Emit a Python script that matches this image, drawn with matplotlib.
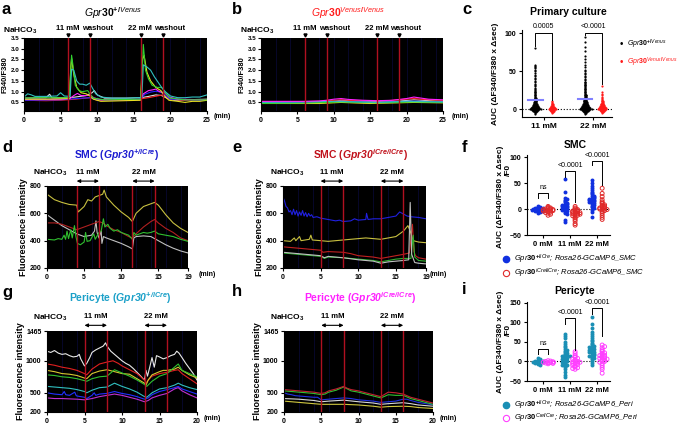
import matplotlib
matplotlib.use("Agg")
import matplotlib.pyplot as plt

plt.rcParams['font.family'] = ['Liberation Sans', 'DejaVu Sans']
plt.rcParams['mathtext.fontset'] = 'custom'
plt.rcParams['mathtext.rm'] = 'Liberation Sans:bold'
plt.rcParams['mathtext.bf'] = 'Liberation Sans:bold'
plt.rcParams['mathtext.it'] = 'Liberation Sans:italic'
plt.rcParams['mathtext.bfit'] = 'Liberation Sans:bold:italic'

W, H = 683, 425

# ---- time traces (minute, value) ----
# a: Gpr30+/Venus, F340/F380
a_cyan = [(0,.75),(0.5,.9),(1,.85),(1.5,.78),(3,.78),(4.5,.8),(5,.95),(5.5,.8),(6.3,.78),(6.5,2.05),(6.8,2.0),(7.2,1.5),(7.6,1.35),(8,1.35),(8.5,1.3),(9,1.4),(9.3,1.2),(9.8,.9),(10.5,.75),(12,.7),(14,.7),(15.5,.72),(16.1,.72),(16.3,2.25),(16.8,2.15),(17.3,2.0),(17.8,1.7),(18.3,1.45),(18.8,1.2),(19.3,1.0),(20,.8),(21,.72),(22,.72),(23,.75),(24,.75),(25,.85)]
a_yellow = [(0,.65),(3,.65),(6.2,.68),(6.4,2.2),(6.5,2.55),(6.8,1.8),(7.2,1.2),(7.8,.95),(8.5,.9),(9,.8),(9.5,.65),(10.5,.55),(15.9,.6),(16.2,2.5),(16.4,2.7),(16.8,1.9),(17.3,1.5),(18,1.2),(18.7,1.05),(19.2,.8),(19.8,.6),(21,.55),(22,.5),(23,.55),(24,.55),(25,.6)]
a_green = [(0,.7),(2,.72),(4,.72),(6.2,.72),(6.5,2.7),(6.7,2.2),(7,1.3),(7.5,1.05),(8,1.0),(8.7,1.05),(9,.9),(9.5,.7),(11,.62),(15.9,.65),(16.1,1.5),(16.3,3.2),(16.6,2.0),(17,1.6),(17.5,1.3),(18.2,1.2),(18.8,1.2),(19.3,.95),(20,.7),(22,.62),(25,.62)]
a_magenta = [(0,.65),(5,.65),(6.3,.68),(6.8,.82),(7.3,.92),(7.8,.82),(8.5,.82),(9,.85),(9.5,.72),(10.5,.62),(15.9,.62),(16.3,.9),(17,1.05),(17.5,1.08),(18,1.12),(18.5,1.0),(19.2,.95),(19.8,.75),(21,.65),(25,.62)]
a_blue = [(0,.6),(5,.62),(8,.7),(9,.72),(10,.62),(15,.62),(16,.68),(16.5,.88),(17.3,.98),(18,1.02),(18.7,.98),(19.3,.82),(20,.65),(25,.6)]
a_white = [(0,.7),(3,.72),(3.5,.88),(3.8,.72),(6,.72),(7,.75),(8.5,.82),(9.3,.95),(9.6,1.05),(10,.85),(11,.7),(14,.7),(16,.72),(17,.78),(18,.85),(18.8,.82),(19.5,.7),(20.5,.6),(22,.62),(25,.65)]
a_red = [(0,.6),(3,.58),(5,.6),(7,.65),(9,.72),(10,.6),(13,.6),(15,.62),(17,.72),(18.5,.82),(19,.85),(20,.65),(22,.6),(25,.62)]

# b: Gpr30Venus/Venus
b_magenta = [(0,.55),(6,.55),(8,.57),(9,.6),(10,.65),(11,.68),(12,.64),(14,.6),(16,.58),(18,.6),(20,.68),(21,.75),(22,.7),(23,.65),(25,.62)]
b_red = [(0,.52),(8,.55),(11,.62),(13,.58),(17,.57),(21,.68),(23,.62),(25,.6)]
b_white = [(0,.5),(9,.52),(11,.6),(14,.55),(18,.53),(21,.62),(25,.55)]
b_cyan = [(0,.5),(5,.52),(10,.55),(16,.5),(20,.55),(25,.52)]
b_green = [(0,.45),(6,.47),(11,.52),(16,.48),(21,.52),(25,.5)]
b_yellow = [(0,.45),(8,.45),(11,.5),(15,.45),(21,.5),(25,.48)]
b_blue = [(0,.48),(6,.5),(11,.55),(16,.5),(21,.56),(25,.52)]

# d: SMC Gpr30+/iCre
d_yellow = [(0,740),(1,700),(2,680),(3,665),(4,660),(4.2,610),(5,650),(5.5,700),(6,690),(6.5,720),(7,730),(7.5,740),(7.7,770),(8,720),(9,660),(10,610),(11,570),(11.5,540),(12,600),(13,650),(14,670),(14.5,680),(15,660),(16,590),(17,530),(18,490),(19,460)]
d_red = [(0,530),(1,530),(2,520),(3,500),(4,480),(5,500),(6,520),(7,540),(7.5,530),(8,510),(9,480),(10,460),(11,430),(11.5,420),(12,450),(13,500),(14,540),(14.5,555),(15,530),(16,490),(17,460),(18,420),(19,400)]
d_green = [(0,410),(1,405),(1.5,415),(2,410),(2.3,440),(2.5,410),(2.7,470),(2.9,415),(3.2,480),(3.4,420),(3.7,510),(3.9,430),(4.1,380),(4.5,370),(5,390),(5.2,460),(5.4,395),(5.8,400),(6,420),(6.3,450),(6.5,410),(6.8,440),(7,460),(7.3,470),(7.6,560),(7.8,500),(8.2,520),(8.5,490),(9,470),(9.5,480),(10,460),(10.5,450),(11,440),(11.5,410),(11.7,460),(12,440),(12.5,450),(13,460),(13.5,455),(14,460),(14.5,470),(15,450),(16,440),(17,430),(18,410),(19,395)]
d_gray = [(0,590),(1,550),(2,510),(3,480),(4,450),(5,430),(6,440),(6.4,470),(6.6,545),(6.75,460),(7,420),(7.3,470),(7.4,380),(7.6,430),(8,420),(9,400),(10,380),(11,355),(11.5,340),(11.7,420),(12,430),(13,435),(14,430),(15,400),(16,370),(17,345),(18,325),(19,310)]

# e: SMC Gpr30iCre/iCre
e_blue = [(0,720),(0.2,690),(0.4,650),(0.6,640),(0.8,610),(1,620),(1.2,590),(1.4,630),(1.6,590),(1.8,620),(2,580),(2.2,610),(2.4,585),(2.6,620),(2.8,580),(3,605),(3.2,575),(3.4,600),(3.6,580),(3.8,590),(4,570),(4.5,575),(5,565),(5.5,560),(6,555),(6.5,550),(7,545),(7.5,550),(8,540),(9,545),(9.5,560),(10,550),(11,555),(11.1,600),(11.3,555),(12,560),(13,560),(14,570),(15,580),(15.5,610),(16,595),(16.5,580),(17,575),(18,570),(19,560)]
e_yellow = [(0,400),(1,395),(1.5,420),(1.7,400),(2.2,430),(2.4,400),(3.5,410),(3.7,440),(3.9,405),(5,400),(6,395),(7,400),(8,405),(9,410),(10,415),(11,420),(12,415),(13,410),(14,420),(15,430),(16,470),(16.6,510),(16.9,470),(17.3,400),(18,390),(19,385)]
e_red = [(0,355),(2,345),(4,335),(5,330),(5.3,315),(6,320),(8,315),(9,305),(10,290),(12,280),(13,270),(14,280),(15,290),(16,300),(16.8,310),(17,420),(17.2,520),(17.4,320),(17.6,290),(18,275),(19,265)]
e_green = [(0,310),(2,300),(4,290),(5,285),(5.5,270),(6,280),(8,275),(10,265),(12,255),(13,245),(14,255),(15,265),(16,270),(17,270),(17.3,440),(17.5,280),(18,255),(19,250)]
e_gray = [(0,315),(2,305),(4,295),(5,290),(5.5,275),(6,285),(8,275),(10,260),(12,250),(13,235),(14,245),(15,250),(16,255),(16.7,260),(16.9,680),(17.1,300),(17.5,240),(18,235),(19,230)]

# g: Pericyte Gpr30+/iCre
g_white = [(0,1150),(0.5,1130),(1,1160),(1.5,1120),(2,1100),(2.5,1110),(3,1080),(3.5,1060),(4,1070),(4.3,1100),(4.5,1030),(5,920),(5.3,960),(5.7,1050),(6,1130),(6.5,1170),(7,1200),(7.5,1230),(7.8,1280),(8,1230),(8.5,1150),(9,1100),(9.5,1050),(10,1000),(10.5,960),(11,930),(11.5,880),(12,820),(12.5,760),(12.8,720),(13,700),(13.2,850),(13.4,760),(13.7,900),(14,1050),(14.3,900),(14.6,1080),(15,1060),(15.5,1030),(16,1050),(16.5,1080),(17,1100),(17.3,1150),(17.6,1120),(18,1050),(18.5,960),(19,880),(19.5,800),(20,700)]
g_red = [(0,950),(1,930),(2,900),(3,880),(4,850),(5,800),(5.3,780),(6,870),(7,950),(8,980),(8.8,1000),(9.5,960),(10,920),(11,860),(12,800),(13,700),(13.2,650),(13.5,700),(14,760),(15,800),(16,820),(17,850),(17.5,860),(18,800),(19,720),(20,640)]
g_yellow = [(0,850),(1,830),(2,800),(3,790),(4,770),(5,730),(5.3,720),(6,800),(7,840),(8,860),(9,830),(10,800),(11,790),(12,720),(13,650),(13.2,620),(13.5,700),(14,780),(15,830),(15.5,850),(16,850),(17,870),(17.5,900),(18,850),(19,780),(20,730)]
g_green = [(0,780),(1,770),(2,750),(3,740),(4,720),(5,690),(5.3,680),(6,720),(7,750),(8,760),(9,860),(10,810),(11,760),(12,700),(13,630),(13.3,600),(14,680),(15,760),(16,800),(17,900),(17.5,950),(18,850),(19,800),(20,750)]
g_cyan = [(0,600),(1,590),(2,580),(3,570),(4,550),(5,520),(5.3,500),(6,540),(6.5,560),(7,580),(8,590),(9,650),(10,600),(11,560),(12,510),(13,440),(13.3,430),(14,500),(15,560),(16,580),(17,620),(17.5,650),(18,620),(19,580),(20,550)]
g_blue = [(0,500),(1,480),(2,470),(2.3,520),(2.5,470),(3,460),(3.7,510),(3.9,455),(4,450),(5,430),(5.3,410),(6,460),(6.3,500),(6.5,460),(7,480),(8,490),(9,520),(10,490),(11,470),(12,440),(13,400),(13.5,420),(14,470),(15,520),(16,550),(17,580),(17.5,600),(18,560),(19,520),(20,480)]
g_magenta = [(0,420),(1,410),(2,410),(3,405),(4,400),(5,390),(6,410),(7,440),(8,460),(9,480),(10,460),(11,430),(12,400),(13,360),(13.5,380),(14,420),(15,460),(16,490),(17,560),(17.5,580),(18,530),(19,470),(20,420)]

# h: Pericyte Gpr30iCre/iCre
h_red = [(0,550),(1,540),(2,530),(3,520),(4,510),(5,490),(5.5,500),(6,530),(7,560),(8,600),(8.5,570),(9,550),(10,530),(11,500),(12,470),(13,440),(14,510),(15,500),(16,480),(17,430),(18,400),(19,370),(20,340)]
h_green = [(0,530),(1,520),(2,510),(3,500),(4,490),(5,470),(5.5,480),(6,510),(7,540),(8,590),(8.5,560),(9,530),(10,510),(11,480),(12,450),(13,420),(14,470),(15,460),(16,460),(17,410),(18,380),(19,350),(20,320)]
h_blue = [(0,500),(0.5,480),(1,470),(1.5,455),(2,450),(3,440),(4,430),(4.5,430),(5,390),(6,400),(7,410),(8,420),(9,410),(10,390),(11,380),(12,370),(13,350),(14,360),(15,370),(16,400),(16.5,400),(17,380),(18,350),(19,330),(20,315)]
h_white = [(0,410),(2,400),(4,380),(5,360),(6,370),(8,385),(10,360),(12,340),(13,320),(14,330),(16,345),(17,330),(18,310),(20,290)]
h_yellow = [(0,370),(2,350),(4,330),(5,320),(8,320),(10,310),(12,290),(13,275),(14,285),(16,290),(17,285),(18,270),(20,255)]

# ---- AUC dot plots ----
c_black_11 = [80, 58, 57, 55, 54, 52, 50, 47, 45, 43, 41, 39, 37, 35, 33, 31, 30, 28, 26, 25, 24, 23, 22, 21, 20, 19, 18, 17, 16, 15, 15, 14, 13, 13, 12, 12, 11, 11, 10, 10,
              9, 9, 9, 8, 8, 8, 7, 7, 7, 6, 6, 6, 6, 5, 5, 5, 5, 5, 4, 4, 4, 4, 4, 4, 3, 3, 3, 3, 3, 3, 3, 2, 2, 2, 2, 2, 2, 2, 2,
              1, 1, 1, 1, 1, 1, 1, 1, 1, 0, 0, 0, 0, 0, 0, 0, 0, 0, 0, 0, -1, -1, -1, -1, -1, -1, -1, -2, -2, -2, -2, -2, -3, -3, -3, -4, -4, -5, -6]
c_red_11 = [10, 9, 8, 7, 6, 6, 5, 5, 4, 4, 4, 3, 3, 3, 3, 2, 2, 2, 2, 2, 1, 1, 1, 1, 1, 1, 0, 0, 0, 0, 0, 0, 0, 0,
            -1, -1, -1, -1, -1, -2, -2, -2, -2, -3, -3, -3, -4, -4, -5]
c_black_22 = [95, 88, 82, 76, 70, 66, 62, 58, 55, 52, 50, 48, 46, 44, 42, 40, 38, 36, 35, 34, 33, 32, 31, 30, 29, 28, 27, 26, 25, 24, 23, 22, 21, 20,
              19, 19, 18, 18, 17, 17, 16, 16, 15, 15, 14, 14, 13, 13, 12, 12, 12, 11, 11, 11, 10, 10, 10, 9, 9, 9, 9, 8, 8, 8, 8,
              7, 7, 7, 7, 6, 6, 6, 6, 6, 5, 5, 5, 5, 5, 5, 4, 4, 4, 4, 4, 4, 4, 3, 3, 3, 3, 3, 3, 3, 3, 2, 2, 2, 2, 2, 2, 2, 2, 2,
              1, 1, 1, 1, 1, 1, 1, 1, 1, 1, 0, 0, 0, 0, 0, 0, 0, 0, 0, 0, 0, 0, -1, -1, -1, -1, -1, -1, -1, -1,
              -2, -2, -2, -2, -2, -2, -3, -3, -3, -3, -4, -4, -4, -5, -5, -6]
c_red_22 = [30, 22, 20, 18, 16, 14, 13, 12, 11, 10, 10, 9, 9, 8, 8, 7, 7, 7, 6, 6, 6, 5, 5, 5, 5, 4, 4, 4, 4, 4,
            3, 3, 3, 3, 3, 3, 2, 2, 2, 2, 2, 2, 2, 1, 1, 1, 1, 1, 1, 1, 1, 0, 0, 0, 0, 0, 0, 0, 0, 0,
            -1, -1, -1, -1, -1, -1, -2, -2, -2, -2, -3, -3, -3, -4, -4, -5]

f_blue_0 = [5, 4, 3, 2, 2, 1, 1, 0, 0, 0, -1, -1, -2, -2, -3, -4, -5, -6, -8]
f_red_0 = [5, 3, 2, 1, 0, 0, -1, -1, -2, -2, -3, -3, -4, -5, -6, -7, -8, -10, -12]
f_blue_11 = [57, 32, 22, 20, 18, 15, 13, 12, 10, 9, 8, 7, 6, 5, 4, 3, 2, 1, 0, -1, -2, -4, -6, -8, -10, -22, -25]
f_red_11 = [5, 2, 0, -1, -2, -3, -4, -5, -5, -6, -7, -8, -8, -9, -10, -11, -12, -13, -15, -17, -20, -23, -28, -31]
f_blue_22 = [55, 50, 45, 40, 36, 33, 30, 28, 26, 25, 24, 22, 21, 20, 19, 18, 17, 16, 15, 14, 12, 11, 10, 8, 6, 4, 2, -1, -5, -15]
f_red_22 = [40, 30, 24, 18, 14, 12, 10, 8, 6, 5, 4, 3, 2, 1, 0, 0, -1, -2, -3, -5, -8, -12, -16, -20]

i_teal_0 = [9, 6, 4, 3, 2, 1, 0, 0, -1, -2, -3, -4, -5, -7, -9]
i_mag_0 = [2, 1, 0, -1, -2, -2, -3, -3, -4, -5, -6]
i_teal_11 = [70, 65, 60, 50, 45, 40, 36, 33, 30, 27, 25, 22, 20, 18, 16, 15, 14, 12, 10, 8, 6, 4, 2, 0, -2, -4, -6, -8, -10, -12, -15, -20, -28, -35, -40]
i_mag_11 = [25, 20, 15, 12, 10, 8, 6, 4, 2, 0, -1, -2, -3, -4, -5, -6, -8, -10, -12, -14, -16, -18, -20]
i_teal_22 = [113, 95, 85, 75, 70, 65, 60, 56, 52, 48, 45, 42, 40, 38, 35, 33, 31, 30, 28, 26, 25, 23, 21, 20, 18, 16, 14, 12, 10, 8, 5, 0, -5, -10]
i_mag_22 = [42, 38, 35, 30, 27, 25, 22, 20, 18, 16, 15, 13, 12, 10, 9, 8, 6, 5, 3, 2, 0, -2, -5, -10, -15, -20, -30]

conc_c = ['11 mM', '22 mM']
conc_fi = ['0 mM', '11 mM', '22 mM']

RED_LINE = '#b01020'
TICK_FS = 5
LAB_FS = 5.5   # 11 mM / washout labels
TITLE_FS = 7.5

fig = plt.figure(figsize=(W / 100, H / 100), dpi=100)


def add_ax(x0, y0, x1, y1):
    return fig.add_axes([x0 / W, 1 - y1 / H, (x1 - x0) / W, (y1 - y0) / H])


def ftext(x, y, s, **kw):
    fig.text(x / W, 1 - y / H, s, **kw)


def style_axis(ax, fs=TICK_FS):
    for sp in ['top', 'right']:
        ax.spines[sp].set_visible(False)
    ax.spines['left'].set_linewidth(0.8)
    ax.spines['bottom'].set_linewidth(0.8)
    ax.tick_params(direction='out', length=2.5, width=0.8, labelsize=fs, pad=1.5)
    for lab in ax.get_xticklabels() + ax.get_yticklabels():
        lab.set_fontweight('bold')


def trace_panel(ax, traces, lines, xlim, ylim, xticks, yticks, grid_step):
    ax.set_facecolor('black')
    g = xlim[0] + grid_step
    while g < xlim[1]:
        ax.axvline(g, color='#0a0a3a', lw=0.5, zorder=0)
        g += grid_step
    for col, pts in traces:
        t = [p[0] for p in pts]
        v = [p[1] for p in pts]
        ax.plot(t, v, color=col, lw=0.8)
    for xl in lines:
        ax.axvline(xl, color=RED_LINE, lw=1.0)
    ax.set_xlim(*xlim)
    ax.set_ylim(*ylim)
    ax.set_xticks(xticks)
    ax.set_yticks(yticks)
    style_axis(ax)


def arrows(ax, spans, ya, yt):
    tr = ax.get_xaxis_transform()
    for x1, x2, s in spans:
        ax.annotate('', xy=(x2, ya), xytext=(x1, ya), xycoords=tr, textcoords=tr, annotation_clip=False,
                    arrowprops=dict(arrowstyle='<|-|>', color='k', lw=0.8, shrinkA=0, shrinkB=0,
                                    mutation_scale=5))
        ax.text((x1 + x2) / 2, yt, s, transform=tr, ha='center', va='bottom', fontsize=LAB_FS,
                fontweight='bold')


def swarm(vals, center, step, binw, maxw):
    xs = []
    counts = {}
    for v in vals:
        k = round(v / binw)
        n = counts.get(k, 0)
        counts[k] = n + 1
        off = ((n + 1) // 2) * step * (1 if n % 2 else -1)
        off = max(-maxw, min(maxw, off))
        xs.append(center + off)
    return xs


def bracket(ax, x1, x2, yl, yr, top, label, ty, fs=5):
    ax.plot([x1, x1, x2, x2], [yl, top, top, yr], color='k', lw=0.7, clip_on=False)
    ax.text((x1 + x2) / 2, ty, label, ha='center', va='bottom', fontsize=fs, clip_on=False)


# ================= a =================
ax = add_ax(24, 38, 207, 111)
trace_panel(ax, [('#e0e0e0', a_white), ('#ff2020', a_red), ('#2020ff', a_blue), ('#ff20ff', a_magenta),
                 ('#e8e020', a_yellow), ('#30d030', a_green), ('#30c0c0', a_cyan)],
            [6, 9, 16, 19], (0, 25), (0.1, 3.5), [0, 5, 10, 15, 20, 25],
            [0.5, 1.0, 1.5, 2.0, 2.5, 3.0, 3.5], 2)
ax.set_yticklabels(['0.5', '1.0', '1.5', '2.0', '2.5', '3.0', '3.5'], fontweight='bold', fontsize=4.5)
ax.tick_params(axis='y', pad=1)
for xl in [6, 9, 16, 19]:
    ax.plot(xl, 1.045, marker='v', color='k', ms=2.2, transform=ax.get_xaxis_transform(), clip_on=False)
tr = ax.get_xaxis_transform()
for x, s in [(6, '11 mM'), (10.1, 'washout'), (15.9, '22 mM'), (19.9, 'washout')]:
    ax.text(x, 1.08, s, transform=tr, ha='center', va='bottom', fontsize=LAB_FS, fontweight='bold')
ftext(5, 75, 'F340/F380', fontsize=5.5, fontweight='bold', rotation=90, ha='center', va='center')
ftext(3, 31, r'NaHCO$_3$', fontsize=6, fontweight='bold', va='center')
ftext(214, 117, '(min)', fontsize=TICK_FS, fontweight='bold', va='center')
ftext(113, 13, r'$\mathit{Gpr30}^{\mathit{+/Venus}}$', fontsize=7.5, ha='center', va='center')
ftext(2, 9, 'a', fontsize=12, fontweight='bold', va='center')

# ================= b =================
ax = add_ax(261, 38, 443, 111)
trace_panel(ax, [('#e0e0e0', b_white), ('#ff2020', b_red), ('#2020ff', b_blue), ('#e8e020', b_yellow),
                 ('#30d030', b_green), ('#30c0c0', b_cyan), ('#ff20ff', b_magenta)],
            [6, 9, 16, 19], (0, 25), (0.1, 3.5), [0, 5, 10, 15, 20, 25],
            [0.5, 1.0, 1.5, 2.0, 2.5, 3.0, 3.5], 2)
ax.set_yticklabels(['0.5', '1.0', '1.5', '2.0', '2.5', '3.0', '3.5'], fontweight='bold', fontsize=4.5)
ax.tick_params(axis='y', pad=1)
for xl in [6, 9, 16, 19]:
    ax.plot(xl, 1.045, marker='v', color='k', ms=2.2, transform=ax.get_xaxis_transform(), clip_on=False)
tr = ax.get_xaxis_transform()
for x, s in [(6, '11 mM'), (10.1, 'washout'), (15.9, '22 mM'), (19.9, 'washout')]:
    ax.text(x, 1.08, s, transform=tr, ha='center', va='bottom', fontsize=LAB_FS, fontweight='bold')
ftext(242, 75, 'F340/F380', fontsize=5.5, fontweight='bold', rotation=90, ha='center', va='center')
ftext(240, 31, r'NaHCO$_3$', fontsize=6, fontweight='bold', va='center')
ftext(452, 117, '(min)', fontsize=TICK_FS, fontweight='bold', va='center')
ftext(348, 13, r'$\mathit{Gpr30}^{\mathit{Venus/Venus}}$', fontsize=7.5, ha='center', va='center', color='#ff1a1a')
ftext(232, 9, 'b', fontsize=12, fontweight='bold', va='center')

# ================= c =================
ax = add_ax(522, 30, 612, 117)
ax.axhline(0, color='k', ls=':', lw=0.8, zorder=0)
for vals, cx, col in [(c_black_11, 0.83, 'black'), (c_red_11, 1.17, '#ff1a1a'),
                      (c_black_22, 1.83, 'black'), (c_red_22, 2.17, '#ff1a1a')]:
    ax.scatter(swarm(vals, cx, 0.022, 1.0, 0.15), vals, s=2.5, color=col, lw=0, zorder=2)
for vals, cx in [(c_black_11, 0.83), (c_black_22, 1.83)]:
    m = sum(vals) / len(vals)
    ax.plot([cx - 0.15, cx + 0.15], [m, m], color='#8080ff', lw=1.5, zorder=3)
ax.set_xlim(0.57, 2.37)
ax.set_ylim(-10.5, 104)
ax.set_xticks([1, 2])
ax.set_xticklabels(conc_c)
ax.set_yticks([0, 50, 100])
style_axis(ax)
for lab in ax.get_xticklabels():
    lab.set_fontsize(6)
bracket(ax, 0.83, 1.17, 83, 12, 100, '0.0005', 104)
bracket(ax, 1.83, 2.17, 97, 33, 100, '<0.0001', 104)
ax.set_ylabel(u'AUC (\u0394F340/F380 x \u0394sec)', fontsize=6, fontweight='bold', labelpad=4)
ftext(621, 44, u'\u2022', fontsize=7, ha='center', va='center', color='k')
ftext(627, 44, r'$\mathit{Gpr30}^{\mathit{+/Venus}}$', fontsize=5, va='center')
ftext(621, 62, u'\u2022', fontsize=7, ha='center', va='center', color='#ff1a1a')
ftext(627, 62, r'$\mathit{Gpr30}^{\mathit{Venus/Venus}}$', fontsize=5, va='center', color='#ff1a1a')
ftext(568, 12, 'Primary culture', fontsize=TITLE_FS, fontweight='bold', ha='center', va='center')
ftext(462, 9, 'c', fontsize=12, fontweight='bold', va='center')

# ================= d =================
ax = add_ax(47, 186, 188, 268)
trace_panel(ax, [('#c0c0c0', d_gray), ('#b02020', d_red), ('#c8c040', d_yellow), ('#30c030', d_green)],
            [4, 7, 11.5, 14.5], (0, 19), (200, 800), [0, 5, 10, 15, 19], [200, 400, 600, 800], 2)
ax.set_ylabel('Fluorescence intensity', fontsize=6.5, fontweight='bold', labelpad=1)
arrows(ax, [(4, 7, '11 mM'), (11.5, 14.5, '22 mM')], 1.06, 1.12)
ftext(33, 173, r'NaHCO$_3$', fontsize=6, fontweight='bold', va='center')
ftext(199, 275, '(min)', fontsize=TICK_FS, fontweight='bold', va='center')
ftext(117, 155, r'SMC ($\mathbfit{Gpr30}^{\mathbfit{+/iCre}}$)', fontsize=TITLE_FS, fontweight='bold',
      ha='center', va='center', color='#1a1ad0')
ftext(2, 148, 'd', fontsize=12, fontweight='bold', va='center')

# ================= e =================
ax = add_ax(283, 186, 426, 268)
trace_panel(ax, [('#2020e0', e_blue), ('#c8c040', e_yellow), ('#c02020', e_red), ('#30b030', e_green),
                 ('#c0c0c0', e_gray)],
            [5, 8, 13, 16], (0, 19), (200, 800), [0, 5, 10, 15, 19], [200, 400, 600, 800], 2)
ax.set_ylabel('Fluorescence intensity', fontsize=6.5, fontweight='bold', labelpad=1)
arrows(ax, [(5, 8, '11 mM'), (13, 16, '22 mM')], 1.06, 1.12)
ftext(270, 173, r'NaHCO$_3$', fontsize=6, fontweight='bold', va='center')
ftext(430, 275, '(min)', fontsize=TICK_FS, fontweight='bold', va='center')
ftext(360, 155, r'SMC ($\mathbfit{Gpr30}^{\mathbfit{iCre/iCre}}$)', fontsize=TITLE_FS, fontweight='bold',
      ha='center', va='center', color='#c0101a')
ftext(232, 148, 'e', fontsize=12, fontweight='bold', va='center')

# ================= f =================
ax = add_ax(527, 155, 610, 235)
ax.axhline(0, color='k', ls=':', lw=0.8, zorder=0)
for vals, cx in [(f_blue_0, -0.19), (f_blue_11, 0.81), (f_blue_22, 1.81)]:
    ax.scatter(swarm(vals, cx, 0.09, 3.0, 0.2), vals, s=8, color='#1030e0', lw=0, zorder=2)
for vals, cx in [(f_red_0, 0.19), (f_red_11, 1.19), (f_red_22, 2.19)]:
    ax.scatter(swarm(vals, cx, 0.09, 3.0, 0.2), vals, s=8, facecolor='none', edgecolor='#e02a2a',
               lw=0.7, zorder=2)
ax.set_xlim(-0.59, 2.48)
ax.set_ylim(-50, 104)
ax.set_xticks([0, 1, 2])
ax.set_xticklabels(conc_fi)
ax.set_yticks([-50, 0, 50, 100])
style_axis(ax)
for lab in ax.get_xticklabels():
    lab.set_fontsize(5.5)
bracket(ax, -0.19, 0.19, 22, 22, 31, 'ns', 35)
bracket(ax, 0.81, 1.19, 61, 14, 74, '<0.0001', 78)
bracket(ax, 1.81, 2.19, 84, 46, 92, '<0.0001', 96)
ftext(500, 197, u'AUC (\u0394F340/F380 x \u0394sec)', fontsize=6, fontweight='bold', rotation=90,
      ha='center', va='center')
ftext(508, 170, '/F0', fontsize=6, fontweight='bold', rotation=90, ha='center', va='center')
fig.add_artist(plt.Line2D([506 / W], [1 - 259 / H], marker='o', ms=4.5, color='#1030e0', lw=0))
fig.add_artist(plt.Line2D([506 / W], [1 - 273 / H], marker='o', ms=4.5, mfc='none', mec='#e02a2a', mew=0.8, lw=0))
ftext(514, 259, r'$\mathit{Gpr30}^{\mathit{+/iCre}}$; Rosa26-GCaMP6_SMC', fontsize=5.5, style='italic', va='center')
ftext(514, 273, r'$\mathit{Gpr30}^{\mathit{iCre/iCre}}$; Rosa26-GCaMP6_SMC', fontsize=5.5, style='italic', va='center')
ftext(575, 145, 'SMC', fontsize=TITLE_FS, fontweight='bold', ha='center', va='center')
ftext(462, 147, 'f', fontsize=12, fontweight='bold', va='center')

# ================= g =================
ax = add_ax(47, 331, 197, 412)
trace_panel(ax, [('#e8e8e8', g_white), ('#e02020', g_red), ('#d8c830', g_yellow), ('#30c030', g_green),
                 ('#30c0c0', g_cyan), ('#2030ff', g_blue), ('#c030d0', g_magenta)],
            [5, 8, 13, 16], (0, 20), (200, 1465), [0, 5, 10, 15, 20], [200, 500, 1000, 1465], 2)
ax.set_ylabel('Fluorescence intensity', fontsize=6.5, fontweight='bold', labelpad=1)
arrows(ax, [(5, 8, '11 mM'), (13, 16, '22 mM')], 1.07, 1.13)
ftext(33, 318, r'NaHCO$_3$', fontsize=6, fontweight='bold', va='center')
ftext(204, 418, '(min)', fontsize=TICK_FS, fontweight='bold', va='center')
ftext(120, 298, r'Pericyte ($\mathbfit{Gpr30}^{\mathbfit{+/iCre}}$)', fontsize=TITLE_FS, fontweight='bold',
      ha='center', va='center', color='#1aa0c8')
ftext(2, 292, 'g', fontsize=12, fontweight='bold', va='center')

# ================= h =================
ax = add_ax(284, 331, 433, 412)
trace_panel(ax, [('#d0c840', h_yellow), ('#d8d8d8', h_white), ('#2030e0', h_blue), ('#30c030', h_green),
                 ('#c02030', h_red)],
            [5, 8, 13, 16], (0, 20), (200, 1465), [0, 5, 10, 15, 20], [200, 500, 1000, 1465], 2)
ax.set_ylabel('Fluorescence intensity', fontsize=6.5, fontweight='bold', labelpad=1)
arrows(ax, [(5, 8, '11 mM'), (13, 16, '22 mM')], 1.07, 1.13)
ftext(270, 318, r'NaHCO$_3$', fontsize=6, fontweight='bold', va='center')
ftext(440, 418, '(min)', fontsize=TICK_FS, fontweight='bold', va='center')
ftext(360, 298, r'Pericyte ($\mathbfit{Gpr30}^{\mathbfit{iCre/iCre}}$)', fontsize=TITLE_FS, fontweight='bold',
      ha='center', va='center', color='#ff20ff')
ftext(232, 292, 'h', fontsize=12, fontweight='bold', va='center')

# ================= i =================
ax = add_ax(527, 302, 610, 381)
ax.axhline(0, color='k', ls=':', lw=0.8, zorder=0)
for vals, cx in [(i_teal_0, -0.19), (i_teal_11, 0.81), (i_teal_22, 1.81)]:
    ax.scatter(swarm(vals, cx, 0.09, 4.0, 0.2), vals, s=8, color='#1a8fb5', lw=0, zorder=2)
for vals, cx in [(i_mag_0, 0.19), (i_mag_11, 1.19), (i_mag_22, 2.19)]:
    ax.scatter(swarm(vals, cx, 0.09, 4.0, 0.2), vals, s=8, facecolor='none', edgecolor='#ff40ff',
               lw=0.7, zorder=2)
ax.set_xlim(-0.59, 2.48)
ax.set_ylim(-50, 152)
ax.set_xticks([0, 1, 2])
ax.set_xticklabels(conc_fi)
ax.set_yticks([-50, 0, 50, 100, 150])
style_axis(ax)
for lab in ax.get_xticklabels():
    lab.set_fontsize(5.5)
bracket(ax, -0.19, 0.19, 20, 20, 32, 'ns', 36)
bracket(ax, 0.81, 1.19, 97, 28, 111, '<0.0001', 116)
bracket(ax, 1.81, 2.19, 122, 66, 137, '<0.0001', 142)
ftext(500, 342, u'AUC (\u0394F340/F380 x \u0394sec)', fontsize=6, fontweight='bold', rotation=90,
      ha='center', va='center')
ftext(508, 330, '/F0', fontsize=6, fontweight='bold', rotation=90, ha='center', va='center')
fig.add_artist(plt.Line2D([506 / W], [1 - 405 / H], marker='o', ms=4.5, color='#1a8fb5', lw=0))
fig.add_artist(plt.Line2D([506 / W], [1 - 418 / H], marker='o', ms=4.5, mfc='none', mec='#ff40ff', mew=0.8, lw=0))
ftext(514, 405, r'$\mathit{Gpr30}^{\mathit{+/iCre}}$; Rosa26-GCaMP6_Peri', fontsize=5.5, style='italic', va='center')
ftext(514, 418, r'$\mathit{Gpr30}^{\mathit{Cre/Cre}}$; Rosa26-GCaMP6_Peri', fontsize=5.5, style='italic', va='center')
ftext(575, 291, 'Pericyte', fontsize=TITLE_FS, fontweight='bold', ha='center', va='center')
ftext(462, 290, 'i', fontsize=12, fontweight='bold', va='center')

fig.savefig('out.png', dpi=100)
